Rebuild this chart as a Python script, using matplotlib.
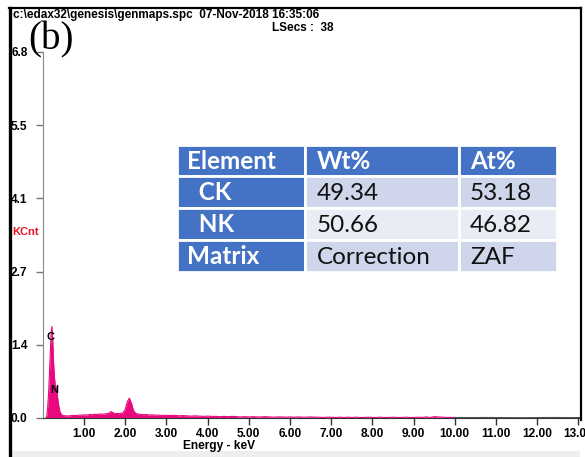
import matplotlib.pyplot as plt
from matplotlib.patches import Rectangle

# -----------------------------
# Spectrum data
# -----------------------------

energy = [0.08, 0.10, 0.12, 0.14, 0.16, 0.18, 0.20, 0.22, 0.24, 0.26, 0.28, 0.30,
          0.32, 0.34, 0.36, 0.38, 0.40, 0.42, 0.44, 0.46, 0.48, 0.50, 0.52, 0.54,
          0.56, 0.58, 0.60,
          0.65, 0.70, 0.75, 0.80, 0.85, 0.90, 0.95, 1.00, 1.05, 1.10, 1.15, 1.20,
          1.25, 1.30, 1.35, 1.40, 1.45, 1.50, 1.55, 1.60, 1.65, 1.70, 1.75, 1.80,
          1.85, 1.90, 1.95, 2.00, 2.05, 2.10, 2.15, 2.20, 2.25, 2.30, 2.35, 2.40,
          2.45, 2.50, 2.55, 2.60, 2.65, 2.70, 2.75, 2.80, 2.85, 2.90, 2.95, 3.00,
          3.1, 3.2, 3.3, 3.4, 3.5, 3.6, 3.7, 3.8, 3.9, 4.0, 4.1, 4.2, 4.3, 4.4,
          4.5, 4.6, 4.7, 4.8, 4.9, 5.0, 5.1, 5.2, 5.3, 5.4, 5.5, 5.6, 5.7, 5.8,
          5.9, 6.0, 6.1, 6.2, 6.3, 6.4, 6.5, 6.6, 6.7, 6.8, 6.9, 7.0, 7.1, 7.2,
          7.3, 7.4, 7.5, 7.6, 7.7, 7.8, 7.9, 8.0, 8.1, 8.2, 8.3, 8.4, 8.5, 8.6,
          8.7, 8.8, 8.9, 9.0, 9.1, 9.2, 9.3, 9.4, 9.5, 9.6, 9.7, 9.8, 9.9, 10.0]

kcnt = [0.00, 0.05, 0.22, 0.45, 0.80, 1.20, 1.55, 1.70, 1.45, 1.05, 0.78, 0.62,
        0.58, 0.50, 0.38, 0.26, 0.17, 0.11, 0.08, 0.06, 0.05, 0.045, 0.04, 0.045,
        0.04, 0.035, 0.04,
        0.04, 0.045, 0.05, 0.045, 0.05, 0.055, 0.05, 0.06, 0.055, 0.06, 0.065, 0.06,
        0.07, 0.065, 0.07, 0.075, 0.07, 0.075, 0.08, 0.085, 0.12, 0.10, 0.08, 0.085,
        0.08, 0.09, 0.10, 0.16, 0.30, 0.37, 0.28, 0.14, 0.09, 0.075, 0.07, 0.065,
        0.06, 0.065, 0.06, 0.055, 0.06, 0.055, 0.05, 0.055, 0.05, 0.05, 0.045, 0.05,
        0.045, 0.05, 0.04, 0.045, 0.04, 0.035, 0.04, 0.035, 0.03, 0.035, 0.03, 0.03,
        0.025, 0.03, 0.025, 0.03, 0.025, 0.02, 0.025, 0.02, 0.025, 0.02, 0.02, 0.025,
        0.02, 0.015, 0.02, 0.02, 0.015, 0.02, 0.015, 0.02, 0.015, 0.015, 0.02, 0.015,
        0.015, 0.01, 0.015, 0.015, 0.01, 0.015, 0.01, 0.015, 0.01, 0.015, 0.01, 0.01,
        0.015, 0.01, 0.01, 0.015, 0.01, 0.01, 0.015, 0.01, 0.01, 0.015, 0.01, 0.01,
        0.015, 0.01, 0.02, 0.01, 0.025, 0.02, 0.015, 0.01, 0.01, 0.01]

# high energy tail drawn in dark grey
tail_energy = [10.0, 10.4, 10.8, 11.2, 11.6, 12.0, 12.4, 12.8, 13.04]
tail_kcnt = [0.01, 0.008, 0.01, 0.008, 0.006, 0.008, 0.01, 0.008, 0.008]

peak_labels = ["C", "N"]
peak_pos = [(0.19, 1.50), (0.28, 0.52)]

x_ticks = [1, 2, 3, 4, 5, 6, 7, 8, 9, 10, 11, 12, 13]
y_ticks = [0.0, 1.36, 2.72, 4.08, 5.44, 6.8]
y_tick_labels = ["0.0", "1.4", "2.7", "4.1", "5.5", "6.8"]

header_line = "c:\\edax32\\genesis\\genmaps.spc  07-Nov-2018 16:35:06"
lsecs_line = "LSecs :  38"

# -----------------------------
# Quantification table
# -----------------------------

table_header = ["Element", "Wt%", "At%"]
elements = ["  CK", "  NK", "Matrix"]
wt_pct = ["49.34", "50.66", "Correction"]
at_pct = ["53.18", "46.82", "ZAF"]

# -----------------------------
# Plot
# -----------------------------

W, H = 585, 457
fig = plt.figure(figsize=(W / 100, H / 100), dpi=100)

ax_l, ax_r, ax_b, ax_t = 42.8, 580, 418, 52
ax = fig.add_axes([ax_l / W, (H - ax_b) / H, (ax_r - ax_l) / W, (ax_b - ax_t) / H])

pink = "#E8097F"
ax.fill_between(energy, kcnt, color=pink, lw=0)
ax.plot(energy, kcnt, color=pink, lw=0.8)
ax.plot(tail_energy, tail_kcnt, color="#555555", lw=0.8)

for lab, (xp, yp) in zip(peak_labels, peak_pos):
    ax.text(xp, yp, lab, fontsize=8, fontweight="bold", family="Liberation Sans",
            ha="center", va="center", color="black")

ax.set_xlim(0, 13.04)
ax.set_ylim(0, 6.8)
ax.set_xticks(x_ticks)
ax.set_xticklabels([f"{v:.2f}" for v in x_ticks])
ax.set_yticks(y_ticks)
ax.set_yticklabels(y_tick_labels)

ax.tick_params(axis="x", direction="out", length=5, width=1, pad=2, colors="#333333")
ax.tick_params(axis="y", direction="out", length=5, width=1, pad=6, colors="#777777")
for lbl in ax.get_xticklabels() + ax.get_yticklabels():
    lbl.set_fontsize(8.6)
    lbl.set_fontweight("bold")
    lbl.set_family("Liberation Sans")
    lbl.set_color("black")

ax.spines["top"].set_visible(False)
ax.spines["right"].set_visible(False)
ax.spines["left"].set_color("#888888")
ax.spines["bottom"].set_color("#333333")
ax.patch.set_alpha(0)

# overlay in pixel coordinates for frame, texts and table
ov = fig.add_axes([0, 0, 1, 1], zorder=5)
ov.set_xlim(0, W)
ov.set_ylim(H, 0)
ov.axis("off")
ov.patch.set_alpha(0)

ov.add_patch(Rectangle((10, 451), 570, 6, color="#EEEEEE", lw=0))
ov.plot([10, 10], [8, H], color="black", lw=2.4)
ov.plot([9, 581], [8, 8], color="black", lw=1.6)
ov.plot([580.5, 580.5], [8, 420], color="black", lw=1.6)

ov.text(13, 15, header_line, fontsize=8.5, fontweight="bold", family="Liberation Sans",
        ha="left", va="center")
ov.text(272, 28, lsecs_line, fontsize=8.5, fontweight="bold", family="Liberation Sans",
        ha="left", va="center")
ov.text(28, 40, "(b)", fontsize=28, family="Liberation Serif", ha="left", va="center")
ov.text(12, 232, "KCnt", fontsize=8, fontweight="bold", family="Liberation Sans",
        color="#E8151F", ha="left", va="center")
ov.text(219, 446, "Energy - keV", fontsize=8.6, fontweight="bold", family="Liberation Sans",
        ha="center", va="center")

blue = "#4472C4"
light = ["#CFD5EA", "#E9EBF5", "#CFD5EA"]
col_x = [177, 305, 459, 557]
row_y = [145, 176, 208, 240, 272]
text_pad = [10, 12, 11]

rows = [table_header] + [list(r) for r in zip(elements, wt_pct, at_pct)]
for i, row in enumerate(rows):
    y0, y1 = row_y[i], row_y[i + 1]
    for j, val in enumerate(row):
        x0, x1 = col_x[j], col_x[j + 1]
        header_cell = i == 0 or j == 0
        face = blue if header_cell else light[i - 1]
        ov.add_patch(Rectangle((x0, y0), x1 - x0, y1 - y0, facecolor=face,
                               edgecolor="white", lw=2))
        ov.text(x0 + text_pad[j], (y0 + y1) / 2 + 1, val, fontsize=17.5, family="Lato",
                fontweight="bold" if header_cell else "normal",
                color="white" if header_cell else "#111111",
                ha="left", va="center")

plt.savefig("out.png", dpi=100)
print("Saved: out.png")
